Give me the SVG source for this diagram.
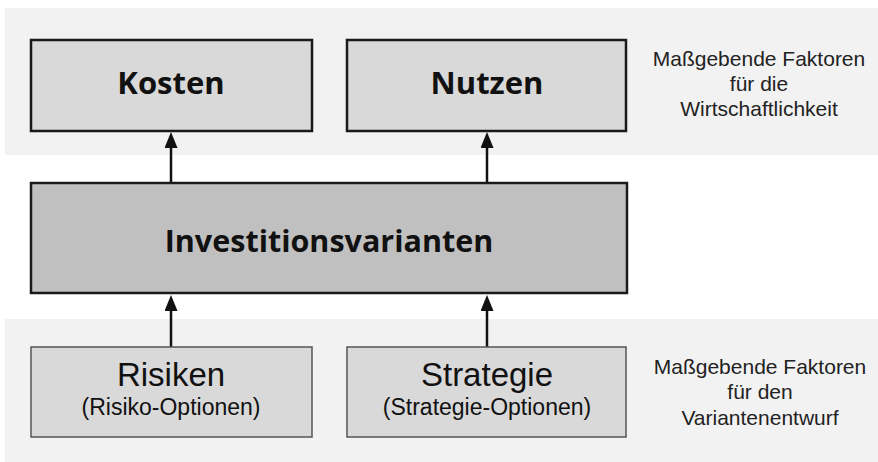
<svg xmlns="http://www.w3.org/2000/svg" width="878" height="462" viewBox="0 0 878 462">
<defs>
<style>
.band{fill:#f2f2f2}
.top{fill:#d9d9d9;stroke:#1a1a1a;stroke-width:2.5}
.mid{fill:#c0c0c0;stroke:#1a1a1a;stroke-width:2.5}
.bot{fill:#d9d9d9;stroke:#555;stroke-width:1.5}
.t{font-family:"Open Sans","Noto Sans",sans-serif;fill:#111;text-anchor:middle}
.r{font-family:"Liberation Sans",Arial,sans-serif;fill:#111;text-anchor:middle}
.b{font-weight:bold;font-size:31px}
.bm{font-weight:bold;font-size:30.5px}
.big{font-size:33px}
.sm{font-size:23px}
.side{font-size:21px;fill:#222}
.con{stroke:#111;stroke-width:2.5;fill:none;marker-end:url(#ah)}
</style>
<marker id="ah" viewBox="0 0 16 13" refX="0" refY="6.5" markerWidth="16" markerHeight="13" markerUnits="userSpaceOnUse" orient="auto">
<path d="M0,0 L16,6.5 L0,13 Z" fill="#111"/>
</marker>
</defs>
<rect class="band" x="5" y="8" width="873" height="147"/>
<rect class="band" x="5" y="319" width="873" height="143"/>
<g id="connectors">
<line class="con" x1="171" y1="183" x2="171" y2="148"/>
<line class="con" x1="487" y1="183" x2="487" y2="148"/>
<line class="con" x1="171" y1="347" x2="171" y2="311"/>
<line class="con" x1="487" y1="347" x2="487" y2="311"/>
</g>
<g id="kosten">
<rect class="top" x="31" y="40" width="281" height="91"/>
<text class="t b" x="171" y="94">Kosten</text>
</g>
<g id="nutzen">
<rect class="top" x="347" y="40" width="279" height="91"/>
<text class="t b" x="487" y="94">Nutzen</text>
</g>
<g id="investitionsvarianten">
<rect class="mid" x="31" y="183" width="596" height="110"/>
<text class="t bm" x="329" y="252">Investitionsvarianten</text>
</g>
<g id="risiken">
<rect class="bot" x="31" y="347" width="281" height="90"/>
<text class="r big" x="171" y="386">Risiken</text>
<text class="r sm" x="171" y="415">(Risiko-Optionen)</text>
</g>
<g id="strategie">
<rect class="bot" x="347" y="347" width="279" height="90"/>
<text class="r big" x="487" y="386">Strategie</text>
<text class="r sm" x="487" y="415">(Strategie-Optionen)</text>
</g>
<g id="label-top">
<text class="r side" x="759" y="66">Maßgebende Faktoren</text>
<text class="r side" x="759" y="91">für die</text>
<text class="r side" x="759" y="116">Wirtschaftlichkeit</text>
</g>
<g id="label-bottom">
<text class="r side" x="760" y="374">Maßgebende Faktoren</text>
<text class="r side" x="760" y="399">für den</text>
<text class="r side" x="760" y="425">Variantenentwurf</text>
</g>
</svg>
